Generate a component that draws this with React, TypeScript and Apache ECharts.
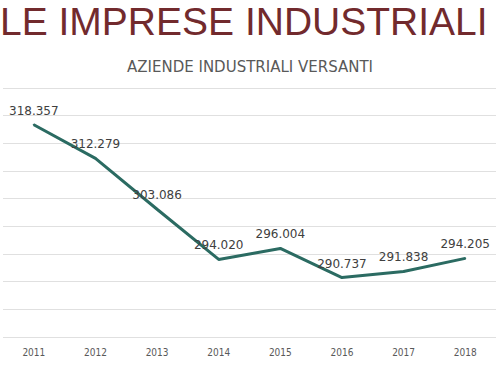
import React, { useEffect, useRef } from "react";
import * as echarts from "echarts";

const years = ["2011", "2012", "2013", "2014", "2015", "2016", "2017", "2018"];
const aziende = [318.357, 312.279, 303.086, 294.02, 296.004, 290.737, 291.838, 294.205];
const yMin = 280;
const yMax = 325;
const yStep = 5;

export default function App() {
  const ref = useRef<HTMLDivElement>(null);
  useEffect(() => {
    if (!ref.current) return;
    const chart = echarts.init(ref.current, null, { renderer: "svg" });
    chart.setOption({
      animation: false,
      backgroundColor: "#ffffff",
      title: [
        {
          text: "LE IMPRESE INDUSTRIALI",
          left: 0,
          top: 2,
          padding: 0,
          textStyle: {
            fontFamily: "Liberation Sans",
            fontSize: 39,
            fontWeight: "normal",
            color: "#722A2D",
          },
        },
        {
          text: "AZIENDE INDUSTRIALI VERSANTI",
          left: "center",
          top: 59,
          padding: 0,
          textStyle: {
            fontFamily: "DejaVu Sans",
            fontSize: 15,
            fontWeight: "normal",
            color: "#595959",
          },
        },
      ],
      grid: { left: 3, right: 4, top: 88, bottom: 32, containLabel: false },
      xAxis: {
        type: "category",
        data: years,
        boundaryGap: true,
        axisLine: { show: false },
        axisTick: { show: false },
        axisLabel: {
          margin: 10,
          fontFamily: "DejaVu Sans Condensed",
          fontSize: 10,
          color: "#595959",
        },
      },
      yAxis: {
        type: "value",
        min: yMin,
        max: yMax,
        interval: yStep,
        axisLabel: { show: false },
        axisLine: { show: false },
        axisTick: { show: false },
        splitLine: { lineStyle: { color: "#e0e0e0", width: 1 } },
      },
      series: [
        {
          type: "line",
          data: aziende,
          showSymbol: true,
          symbol: "circle",
          symbolSize: 2,
          itemStyle: { color: "#2B6B62" },
          lineStyle: { color: "#2B6B62", width: 3 },
          label: {
            show: true,
            position: "top",
            distance: 7,
            fontFamily: "DejaVu Sans",
            fontSize: 12,
            color: "#404040",
            formatter: (p: any) => p.value.toFixed(3),
          },
        },
      ],
    });
    return () => chart.dispose();
  }, []);
  return (
    <div
      ref={ref}
      style={{ position: "fixed", left: 0, top: 0, width: 500, height: 369 }}
    />
  );
}
